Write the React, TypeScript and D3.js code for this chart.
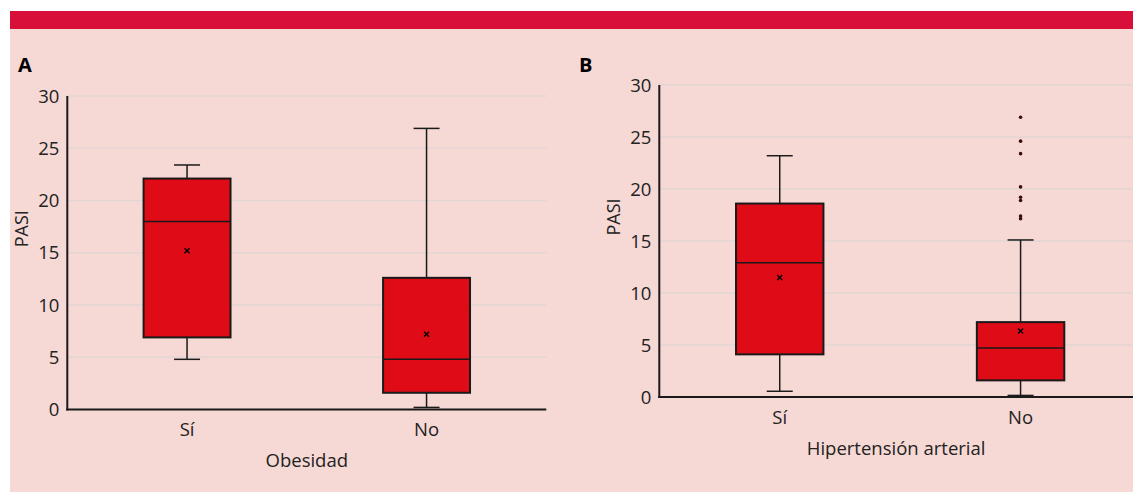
import React from "react";
import * as d3 from "d3";

// values (PASI)
const categories = ["Sí", "No"];
const yTicks = [0, 5, 10, 15, 20, 25, 30];

// A: Obesidad
const obesidadLow = [4.8, 0.2];
const obesidadQ1 = [6.9, 1.6];
const obesidadMedian = [18.0, 4.8];
const obesidadQ3 = [22.1, 12.6];
const obesidadHigh = [23.4, 26.9];
const obesidadMean = [15.2, 7.2];

// B: Hipertensión arterial
const htaLow = [0.55, 0.15];
const htaQ1 = [4.1, 1.6];
const htaMedian = [12.9, 4.7];
const htaQ3 = [18.6, 7.2];
const htaHigh = [23.2, 15.1];
const htaMean = [11.5, 6.35];
const htaOutliersNo = [26.9, 24.6, 23.4, 20.2, 19.2, 18.9, 17.4, 17.15];

const W = 1133;
const H = 492;
const FONT = "'Open Sans', Lato, sans-serif";
const BOX_FILL = "#df0b16";
const INK = "#1a1a1a";

type Stats = {
  low: number[];
  q1: number[];
  median: number[];
  q3: number[];
  high: number[];
  mean: number[];
  outliers?: (number[] | null)[];
};

type PanelProps = {
  letter: string;
  letterX: number;
  xTitle: string;
  x0: number;
  x1: number;
  axisEnd: number;
  yTop: number;
  yBottom: number;
  stats: Stats;
};

function Panel({ letter, letterX, xTitle, x0, x1, axisEnd, yTop, yBottom, stats }: PanelProps) {
  const y = d3.scaleLinear().domain([0, 30]).range([yBottom, yTop]);
  const x = d3.scaleBand<string>().domain(categories).range([x0, x1]).padding(0);
  const boxW = x.step() * 0.363;
  const capW = 26;
  const cx = (c: string) => (x(c) ?? 0) + x.bandwidth() / 2;

  return (
    <g>
      <text x={letterX} y={72} fontFamily={FONT} fontWeight="bold" fontSize={20} fill="#000">
        {letter}
      </text>

      {/* gridlines */}
      {yTicks.map((t) => (
        <line key={"g" + t} x1={x0} x2={axisEnd} y1={y(t)} y2={y(t)} stroke="#e2d6d4" strokeWidth={1.5} />
      ))}

      {/* y tick labels */}
      {yTicks.map((t) => (
        <text
          key={"t" + t}
          x={x0 - 8}
          y={y(t)}
          dy="0.36em"
          textAnchor="end"
          fontFamily={FONT}
          fontSize={18.5}
          fill="#222"
        >
          {t}
        </text>
      ))}

      <text
        transform={`translate(${x0 - 46},${(yTop + yBottom) / 2 - 24}) rotate(-90)`}
        textAnchor="middle"
        dy="0.36em"
        fontFamily={FONT}
        fontSize={18}
        fill="#222"
      >
        PASI
      </text>

      {categories.map((c, i) => {
        const mx = cx(c);
        const outs = stats.outliers ? stats.outliers[i] : null;
        return (
          <g key={c}>
            {/* whiskers */}
            <line x1={mx} x2={mx} y1={y(stats.high[i])} y2={y(stats.q3[i])} stroke={INK} strokeWidth={1.5} />
            <line x1={mx} x2={mx} y1={y(stats.q1[i])} y2={y(stats.low[i])} stroke={INK} strokeWidth={1.5} />
            <line x1={mx - capW / 2} x2={mx + capW / 2} y1={y(stats.high[i])} y2={y(stats.high[i])} stroke={INK} strokeWidth={1.5} />
            <line x1={mx - capW / 2} x2={mx + capW / 2} y1={y(stats.low[i])} y2={y(stats.low[i])} stroke={INK} strokeWidth={1.5} />
            {/* box */}
            <rect
              x={mx - boxW / 2}
              y={y(stats.q3[i])}
              width={boxW}
              height={y(stats.q1[i]) - y(stats.q3[i])}
              fill={BOX_FILL}
              stroke={INK}
              strokeWidth={2}
            />
            <line x1={mx - boxW / 2} x2={mx + boxW / 2} y1={y(stats.median[i])} y2={y(stats.median[i])} stroke={INK} strokeWidth={1.5} />
            {/* mean */}
            <path
              d={`M${mx - 2.5},${y(stats.mean[i]) - 2.5}L${mx + 2.5},${y(stats.mean[i]) + 2.5}M${mx + 2.5},${y(stats.mean[i]) - 2.5}L${mx - 2.5},${y(stats.mean[i]) + 2.5}`}
              stroke="#000"
              strokeWidth={1.4}
            />
            {outs &&
              outs.map((v, j) => <circle key={j} cx={mx} cy={y(v)} r={1.8} fill="#3a0d0d" />)}
            <text
              x={mx}
              y={yBottom + 20}
              dy="0.36em"
              textAnchor="middle"
              fontFamily={FONT}
              fontSize={18.5}
              fill="#222"
            >
              {c}
            </text>
          </g>
        );
      })}

      {/* axes */}
      <line x1={x0} x2={x0} y1={yTop} y2={yBottom + 1} stroke={INK} strokeWidth={2} />
      <line x1={x0 - 1} x2={axisEnd} y1={yBottom} y2={yBottom} stroke={INK} strokeWidth={2} />

      <text
        x={(x0 + axisEnd) / 2}
        y={yBottom + 51}
        dy="0.36em"
        textAnchor="middle"
        fontFamily={FONT}
        fontSize={18.5}
        fill="#222"
      >
        {xTitle}
      </text>
    </g>
  );
}

export default function App() {
  const statsA: Stats = {
    low: obesidadLow,
    q1: obesidadQ1,
    median: obesidadMedian,
    q3: obesidadQ3,
    high: obesidadHigh,
    mean: obesidadMean,
  };
  const statsB: Stats = {
    low: htaLow,
    q1: htaQ1,
    median: htaMedian,
    q3: htaQ3,
    high: htaHigh,
    mean: htaMean,
    outliers: [null, htaOutliersNo],
  };

  return (
    <svg
      width={W}
      height={H}
      style={{ position: "absolute", left: 0, top: 0, background: "#fff" }}
    >
      <rect x={10} y={29} width={W - 10} height={H - 29} fill="#f6d8d4" />
      <rect x={10} y={11} width={W - 10} height={18} fill="#d80f38" />
      <Panel
        letter="A"
        letterX={18}
        xTitle="Obesidad"
        x0={67.3}
        x1={546.3}
        axisEnd={546.3}
        yTop={96}
        yBottom={409.5}
        stats={statsA}
      />
      <Panel
        letter="B"
        letterX={579}
        xTitle="Hipertensión arterial"
        x0={659.3}
        x1={1141}
        axisEnd={1133}
        yTop={85}
        yBottom={397}
        stats={statsB}
      />
    </svg>
  );
}
